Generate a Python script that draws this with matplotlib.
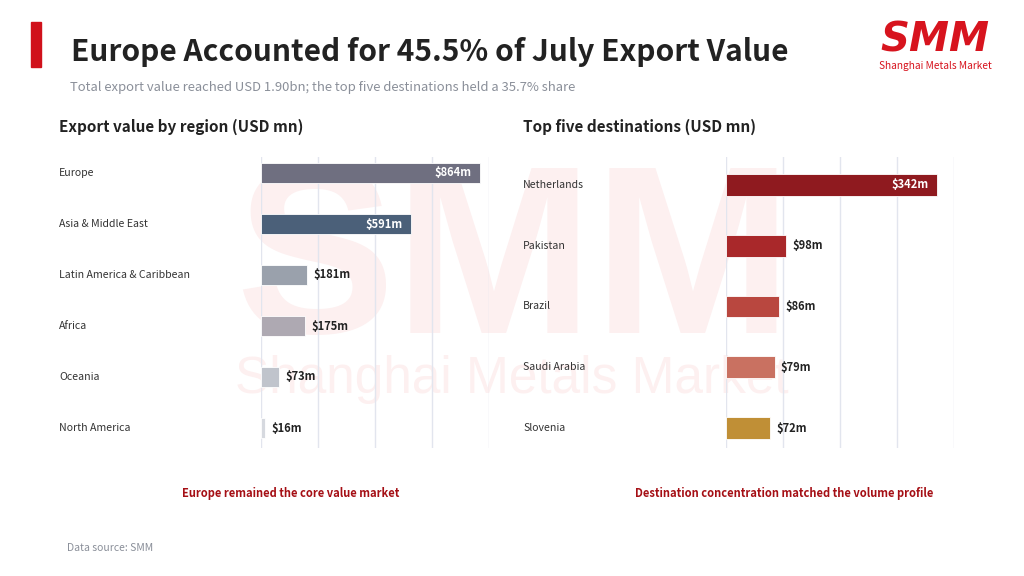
import matplotlib.pyplot as plt
import numpy as np

# data
regions = ['Europe', 'Asia & Middle East', 'Latin America & Caribbean', 'Africa', 'Oceania', 'North America']
region_values = [864, 591, 181, 175, 73, 16]
region_colors = ['#6f6f80', '#4b6079', '#9aa1ac', '#aea9b2', '#c0c4cc', '#d6d9df']

destinations = ['Netherlands', 'Pakistan', 'Brazil', 'Saudi Arabia', 'Slovenia']
dest_values = [342, 98, 86, 79, 72]
dest_colors = ['#8f1a1f', '#a9282a', '#b9473f', '#c97161', '#c08f36']

FONT = ['Noto Sans CJK SC', 'DejaVu Sans']
plt.rcParams['font.family'] = FONT

W, H = 1024, 576
fig = plt.figure(figsize=(10.24, 5.76), dpi=100)
fig.patch.set_facecolor('white')

def fx(px):
    return px / W

def fy(py):
    return 1 - py / H

# watermark
fig.text(fx(514), fy(333), 'SMM', fontsize=172, fontweight='bold', family='Liberation Sans',
         color='#fdf0f0', ha='center', va='baseline', zorder=-5)
fig.text(fx(512), fy(380), 'Shanghai Metals Market', fontsize=37, family='Liberation Sans',
         color='#fdf0f0', ha='center', va='center', zorder=-5)

# header
fig.patches.append(plt.Rectangle((fx(31), fy(67)), fx(10), 45 / H, transform=fig.transFigure,
                                 color='#d0111b', zorder=2))
fig.text(fx(71), fy(52), 'Europe Accounted for 45.5% of July Export Value', fontsize=21.5,
         fontweight='bold', color='#222222', va='center')
fig.text(fx(70), fy(87), 'Total export value reached USD 1.90bn; the top five destinations held a 35.7% share',
         fontsize=9.4, color='#8a8f99', va='center')

# logo
fig.text(fx(935), fy(41), 'SMM', fontsize=29, fontweight='bold', style='italic', family='DejaVu Sans',
         color='#d7141e', ha='center', va='center')
fig.text(fx(935), fy(66), 'Shanghai Metals Market', fontsize=7.3, color='#d7141e', ha='center', va='center')

# section titles
fig.text(fx(59), fy(127), 'Export value by region (USD mn)', fontsize=11, fontweight='bold',
         color='#222222', va='center')
fig.text(fx(523), fy(127), 'Top five destinations (USD mn)', fontsize=11, fontweight='bold',
         color='#222222', va='center')


def draw_panel(rect, cats, vals, colors, xmax, top_pad, bot_pad, bar_h, label_x, inside_n):
    ax = fig.add_axes(rect)
    ax.set_facecolor('none')
    y = np.arange(len(cats))
    ax.barh(y, vals, height=bar_h, color=colors, edgecolor='white', linewidth=0.6, zorder=3)
    ax.set_xlim(0, xmax)
    ax.set_ylim(len(cats) - 1 + bot_pad, -top_pad)
    for g in np.linspace(0, xmax, 5):
        ax.axvline(g, color='#e2e5ee', lw=1, zorder=1)
    for s in ax.spines.values():
        s.set_visible(False)
    ax.set_xticks([])
    ax.set_yticks([])
    for i, (c, v) in enumerate(zip(cats, vals)):
        ax.annotate(c, xy=(fx(label_x), i), xycoords=('figure fraction', 'data'),
                    fontsize=7.6, color='#333333', va='center', ha='left')
        if i < inside_n:
            ax.annotate(f'${v}m', xy=(v, i), xytext=(-6, 0), textcoords='offset points',
                        fontsize=8, fontweight='bold', color='white', va='center', ha='right')
        else:
            ax.annotate(f'${v}m', xy=(v, i), xytext=(4.5, 0), textcoords='offset points',
                        fontsize=8, fontweight='bold', color='#222222', va='center', ha='left')
    return ax


draw_panel([fx(261), fy(448), 228 / W, 291 / H], regions, region_values, region_colors,
           900, 16 / 51, 20 / 51, 0.39, 59, 2)
draw_panel([fx(726), fy(448), 228 / W, 291 / H], destinations, dest_values, dest_colors,
           370, 28 / 61, 20 / 61, 0.36, 523, 1)

# captions
fig.text(fx(291), fy(493), 'Europe remained the core value market', fontsize=8, fontweight='bold',
         color='#a50f15', ha='center', va='center')
fig.text(fx(784), fy(493), 'Destination concentration matched the volume profile', fontsize=8,
         fontweight='bold', color='#a50f15', ha='center', va='center')
fig.text(fx(67), fy(548), 'Data source: SMM', fontsize=7.5, color='#8a8f99', va='center')

fig.savefig('out.png', dpi=100)
